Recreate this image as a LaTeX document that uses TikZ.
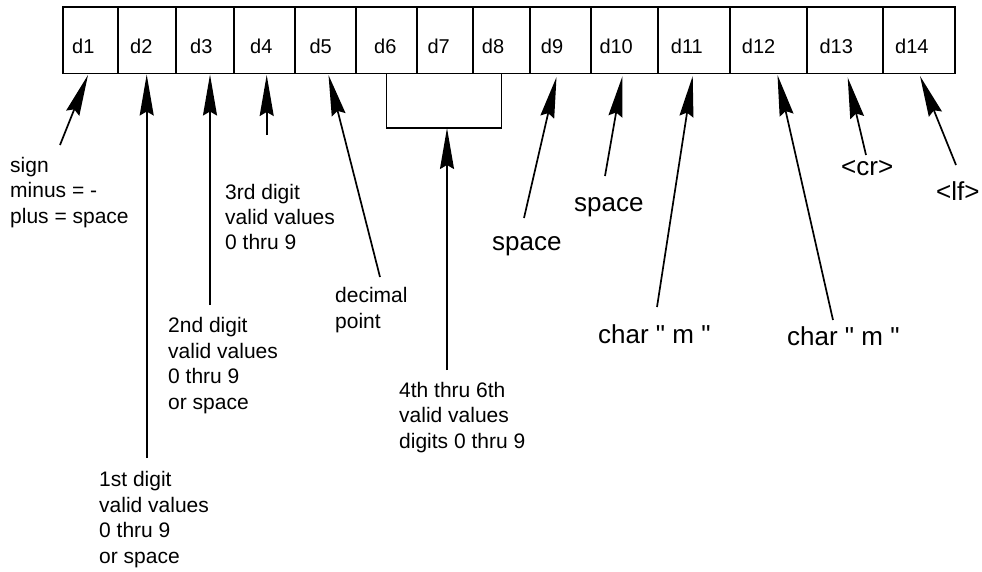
\documentclass[tikz,border=0pt]{standalone}
\usepackage{fontspec}
\setmainfont{Liberation Sans}[Ligatures=TeXOff]
\usetikzlibrary{arrows.meta}
\begin{document}
\begin{tikzpicture}[x=1pt,y=-1pt,
  cell/.style={draw, line width=1.7pt, minimum height=66.5pt, inner sep=0pt, outer sep=0pt, anchor=north west},
  dl/.style={anchor=base west, inner sep=0pt, font=\fontsize{20}{24}\selectfont},
  sm/.style={anchor=base west, inner sep=0pt, align=left, font=\fontsize{21}{25.4}\selectfont},
  lg/.style={anchor=base west, inner sep=0pt, align=left, font=\fontsize{26}{30}\selectfont},
  arr/.style={line width=1.7pt, -{Stealth[length=41pt,width=14pt,inset=4pt]}},
  ln/.style={line width=1.7pt}]
\useasboundingbox (0,0) rectangle (982,571);

% cells
\foreach \i/\l/\r in {1/63/118,2/118/176,3/176/234,4/234/295,5/295/356,6/356/417,7/417/473,
  8/473/530,9/530/591,10/591/658,11/658/730,12/730/807,13/807/883,14/883/955}
  {\node[cell, minimum width=\r-\l] (b\i) at (\l,7) {};}

% cell labels
\foreach \i/\x in {1/72,2/130,3/190,4/250,5/309.3,6/374,7/427.3,8/481.7,9/540.7,
  10/599.3,11/670.7,12/741.7,13/819.3,14/895}
  {\node[dl] (l\i) at (\x,53.3) {d\i};}

% bracket over d6..d8
\draw[ln] (b6.south) -- ++(0,54.5) -| (b8.south);
\coordinate (brk) at ([xshift=2pt,yshift=-54.5pt]b7.south);

% free ends of the arrows
\coordinate (e1) at (60,145);
\coordinate (e2) at (146.7,458);
\coordinate (e3) at (210,305);
\coordinate (e4) at (266.7,135);
\coordinate (e5) at (380,277);
\coordinate (e6) at (447,370);
\coordinate (e9) at (524,218);
\coordinate (e10) at (605,176);
\coordinate (e11) at (657,307);
\coordinate (e12) at (833,320);
\coordinate (e13) at (866,155);
\coordinate (e14) at (956,165);

% arrows
\draw[arr] (e1) -- ([xshift=-2.5pt,yshift=-1.5pt]b1.south);
\draw[arr] (e2) -- ([xshift=-0.3pt,yshift=-1pt]b2.south);
\draw[arr] (e3) -- ([xshift=5pt,yshift=-1pt]b3.south);
\draw[arr] (e4) -- ([xshift=2.2pt,yshift=-1.5pt]b4.south);
\draw[arr] (e5) -- ([xshift=3pt,yshift=-1.5pt]b5.south);
\draw[arr] (e6) -- (brk);
\draw[arr] (e9) -- ([xshift=-4pt,yshift=-3.5pt]b9.south);
\draw[arr] (e10) -- ([xshift=-2pt,yshift=-2.5pt]b10.south);
\draw[arr] (e11) -- ([xshift=-1.3pt,yshift=-2.5pt]b11.south);
\draw[arr] (e12) -- ([xshift=9pt,yshift=-1.5pt]b12.south);
\draw[arr] (e13) -- ([xshift=2.7pt,yshift=-4pt]b13.south);
\draw[arr] (e14) -- ([xshift=1pt,yshift=-2.5pt]b14.south);

% texts (anchor at the baseline of the last line)
\node[sm] (tsign) at (10,223) {sign\\minus = -\\plus = space};
\node[sm, font=\fontsize{21}{24.6}\selectfont] (t3) at (225,249) {3rd digit\\valid values\\0 thru 9};
\node[sm] (t2) at (168,409) {2nd digit\\valid values\\0 thru 9\\or space};
\node[sm] (t1) at (99,563) {1st digit\\valid values\\0 thru 9\\or space};
\node[sm] (t5) at (335,328) {decimal\\point};
\node[sm] (t6) at (399,448.3) {4th thru 6th\\valid values\\digits 0 thru 9};
\node[lg] (t9) at (492,250) {space};
\node[lg] (t10) at (574,211) {space};
\node[lg] (t11) at (598,343) {char " m "};
\node[lg] (t12) at (787,345) {char " m "};
\node[lg] (t13) at (841,175) {<cr>};
\node[lg] (t14) at (936,200) {<lf>};
\end{tikzpicture}
\end{document}
